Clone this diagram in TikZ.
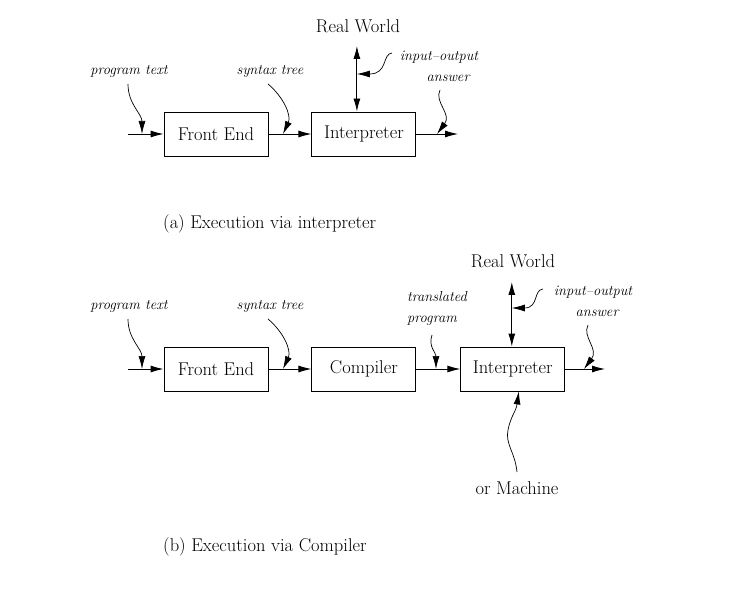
\documentclass[tikz,border=0pt]{standalone}
\usepackage{tikz}
\usetikzlibrary{arrows.meta,positioning,calc}

\begin{document}
\begin{tikzpicture}[
x=1pt, y=1pt,
node distance=43pt,
every node/.style={font=\fontsize{18.5}{22}\selectfont},
block/.style={draw, line width=0.9pt, minimum width=104pt, minimum height=44pt, inner sep=0pt},
tag/.style={font=\fontsize{14.5}{17}\selectfont\itshape, inner sep=1pt, align=left},
capline/.style={anchor=west, inner sep=0pt},
arr/.style={-{Latex[length=13pt,width=7pt]}, line width=0.9pt},
darr/.style={{Latex[length=13pt,width=7pt]}-{Latex[length=13pt,width=7pt]}, line width=0.9pt},
curly/.style={-{Latex[length=13pt,width=7pt]}, line width=0.7pt}
]
\useasboundingbox (0,0) rectangle (751,592);

% (a) execution via interpreter
\node[block] (fe1) at (216,458) {Front End};
\node[block, right=of fe1] (ip1) {Interpreter};
\coordinate (in1) at (128,458);
\coordinate (out1) at (458,458);
\draw[arr] (in1) -- (fe1); \draw[arr] (fe1) -- (ip1); \draw[arr] (ip1) -- (out1);

\node (rw1) at (358,566) {Real World};
\coordinate (io1b) at ($(ip1.north)+(-7,0)$);
\coordinate (io1t) at (io1b |- 0,546);
\draw[darr] (io1b) -- (io1t);

% curly labels (a)
\node[tag] (pt1) at (129,521) {program text};
\node[tag] (st1) at (270,521) {syntax tree};
\node[tag] (io1) at (439,535) {input--output};
\node[tag] (an1) at (448,514) {answer};
\coordinate (pt1e) at (142,458);
\coordinate (st1e) at (283,458);
\coordinate (io1e) at (io1b |- 0,518);
\coordinate (an1e) at (437,458);
\draw[curly] (128,508) to[out=-90,in=90] (pt1e);
\draw[curly] (268,508) to[out=-40,in=65] (st1e);
\draw[curly] (392,539) .. controls (382,538) and (388,518) .. (io1e);
\draw[curly] (440,502) .. controls (434,490) and (452,478) .. (an1e);

\node[capline] (ca1) at (163,368) {(a) Execution via interpreter};

% (b) execution via compiler
\node[block] (fe2) at (216,223) {Front End};
\node[block, right=of fe2] (co2) {Compiler};
\node[block, right=44pt of co2] (ip2) {Interpreter};
\coordinate (in2) at (128,223);
\coordinate (out2) at (605,223);
\draw[arr] (in2) -- (fe2); \draw[arr] (fe2) -- (co2); \draw[arr] (co2) -- (ip2); \draw[arr] (ip2) -- (out2);

\node (rw2) at (513,331) {Real World};
\coordinate (io2b) at ($(ip2.north)+(-1,0)$);
\coordinate (io2t) at (io2b |- 0,310);
\draw[darr] (io2b) -- (io2t);

\node (om2) at (517,104) {or Machine};
\coordinate (om2e) at ($(ip2.south)+(6,0)$);
\draw[curly] (517,120) .. controls (515,140) and (505,148) .. (508,162) .. controls (511,177) and (516,180) .. (om2e);

% curly labels (b)
\node[tag] (pt2) at (129,286) {program text};
\node[tag] (st2) at (270,286) {syntax tree};
\node[tag, font=\fontsize{14.5}{21}\selectfont\itshape] (tp2) at (437,284) {translated\\program};
\node[tag] (io2) at (593,300) {input--output};
\node[tag] (an2) at (597,279) {answer};
\coordinate (pt2e) at (142,223);
\coordinate (st2e) at (283,223);
\coordinate (tp2e) at (436,223);
\coordinate (io2e) at (io2b |- 0,284);
\coordinate (an2e) at (584,223);
\draw[curly] (128,273) to[out=-90,in=90] (pt2e);
\draw[curly] (268,273) to[out=-40,in=65] (st2e);
\draw[curly] (432,257) .. controls (428,245) and (436,240) .. (tp2e);
\draw[curly] (543,303) .. controls (533,302) and (539,284) .. (io2e);
\draw[curly] (588,267) .. controls (582,255) and (599,243) .. (an2e);

\node[capline] (ca2) at (163,45) {(b) Execution via Compiler};
\end{tikzpicture}
\end{document}
